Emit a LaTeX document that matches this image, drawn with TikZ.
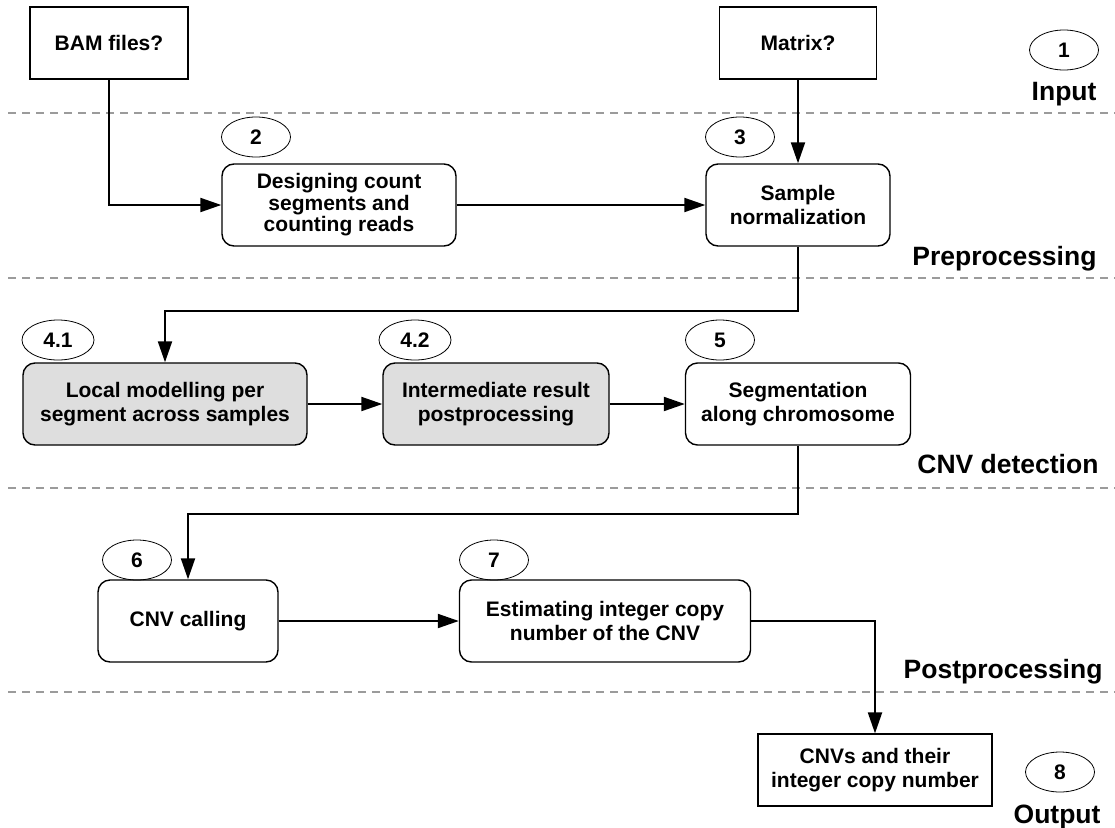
\documentclass[tikz,border=0pt]{standalone}
\usepackage{fontspec}
\setmainfont{Liberation Sans}
\usetikzlibrary{shapes.geometric,arrows.meta}
\definecolor{boxgray}{RGB}{222,222,222}
\definecolor{dashgray}{RGB}{155,155,155}
\begin{document}
\begin{tikzpicture}[x=1pt,y=-1pt,
  every node/.style={font=\bfseries\fontsize{21}{24}\selectfont},
  rbox/.style={draw,line width=1.4pt,rounded corners=12pt,align=center,inner sep=0pt},
  sbox/.style={draw,line width=1.2pt,align=center,inner sep=0pt},
  numell/.style={draw,ellipse,line width=0.8pt,minimum width=69pt,minimum height=40pt,inner sep=0pt},
  lbl/.style={anchor=base east,font=\bfseries\fontsize{26.5}{30}\selectfont},
  sep/.style={dashgray,line width=2.8pt,dash pattern=on 8pt off 6pt},
  arr/.style={line width=2pt,-{Triangle[length=21pt,width=14pt]}},
  conn/.style={line width=2pt}
]
\useasboundingbox (0,0) rectangle (1115,827);
% separators
\draw[sep] (8,113) -- (1115,113);
\draw[sep] (8,278) -- (1115,278);
\draw[sep] (8,488) -- (1115,488);
\draw[sep] (8,692) -- (1115,692);
% labels
\node[lbl] (lin) at (1100,100) {Input};
\node[lbl] (lpre) at (1100,265) {Preprocessing};
\node[lbl] (lcnv) at (1102,473) {CNV detection};
\node[lbl] (lpost) at (1106,678) {Postprocessing};
\node[lbl] (lout) at (1104,823) {Output};
% input boxes
\node[sbox,minimum width=158pt,minimum height=72pt] (bam) at (109,43) {BAM files?};
\node[sbox,minimum width=157pt,minimum height=72pt] (mat) at (798,43) {Matrix?};
% process boxes
\node[rbox,minimum width=234pt,minimum height=82pt] (b2) at (339,205) {Designing count\\[-2.5pt]segments and\\[-2.5pt]counting reads};
\node[rbox,minimum width=184pt,minimum height=82pt] (b3) at (798,205) {Sample\\normalization};
\node[rbox,fill=boxgray,minimum width=284pt,minimum height=82pt] (b41) at (165,404) {Local modelling per\\segment across samples};
\node[rbox,fill=boxgray,minimum width=226pt,minimum height=82pt] (b42) at (496,404) {Intermediate result\\postprocessing};
\node[rbox,minimum width=225pt,minimum height=82pt] (b5) at (798,404) {Segmentation\\along chromosome};
\node[rbox,minimum width=180pt,minimum height=82pt] (b6) at (188,621) {CNV calling};
\node[rbox,minimum width=291pt,minimum height=82pt] (b7) at (605,621) {Estimating integer copy\\number of the CNV};
\node[sbox,minimum width=234pt,minimum height=72pt] (b8) at (875,770) {CNVs and their\\integer copy number};
% number ellipses
\node[numell] (e1) at (1064,50) {1};
\node[numell] (e2) at (256,137) {2};
\node[numell] (e3) at (740,137) {3};
\node[numell,minimum width=72pt] (e41) at (58,340) {4.1};
\node[numell,minimum width=72pt] (e42) at (415,340) {4.2};
\node[numell] (e5) at (720,340) {5};
\node[numell] (e6) at (137,560) {6};
\node[numell] (e7) at (494,560) {7};
\node[numell] (e8) at (1060,772) {8};
% connectors
\draw[arr] (bam.south) |- (b2.west);
\draw[arr] (b2.east) -- (b3.west);
\draw[arr] (mat.south) -- (b3.north);
\draw[arr] (b3.south) -- ++(0,64) -| (b41.north);
\draw[arr] (b41.east) -- (b42.west);
\draw[arr] (b42.east) -- (b5.west);
\draw[arr] (b5.south) -- ++(0,68) -| (b6.north);
\draw[arr] (b6.east) -- (b7.west);
\draw[arr] (b7.east) -| (b8.north);
\end{tikzpicture}
\end{document}
